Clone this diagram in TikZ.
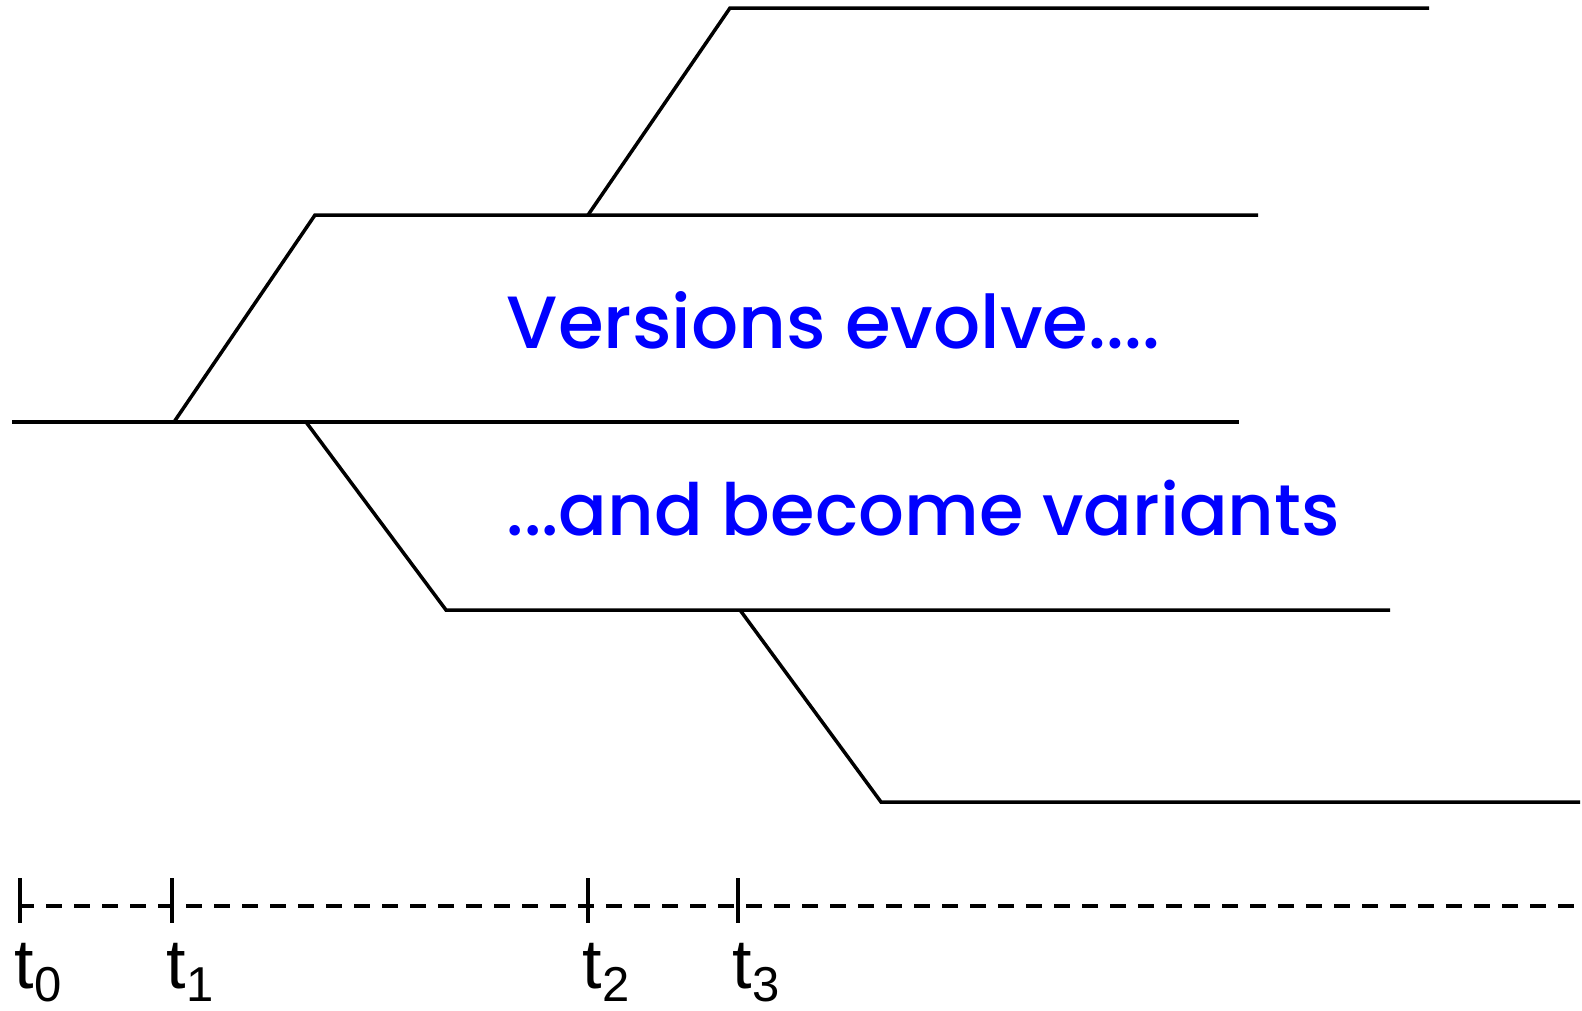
\documentclass[tikz,border=0pt]{standalone}
\usepackage{fontspec}
\setmainfont{Liberation Sans}
\newfontfamily\notefont{Poppins}[UprightFont={* Medium}]
\newcommand{\tlabel}[1]{\fontsize{70}{84}\selectfont t\raisebox{-13pt}{\fontsize{49}{49}\selectfont #1}}
\begin{document}
\begin{tikzpicture}[x=1pt,y=-1pt,line width=3.5pt]
\useasboundingbox (0,0) rectangle (1582,1010);

% main line and its branches
\coordinate (m0) at (12,422);
\coordinate (m1) at (174,422);
\coordinate (m2) at (306,422);
\coordinate (mend) at (1239,422);
\draw (m0) -- (mend);

\coordinate (u1) at (315,215);
\coordinate (u2) at (588,215);
\coordinate (uend) at (1258,215);
\draw (m1) -- (u1) -- (uend);

\coordinate (v1) at (730,8);
\coordinate (vend) at (1429,8);
\draw (u2) -- (v1) -- (vend);

\coordinate (d1) at (446,610);
\coordinate (d2) at (740,610);
\coordinate (dend) at (1390,610);
\draw (m2) -- (d1) -- (dend);

\coordinate (e1) at (881,802);
\coordinate (eend) at (1580,802);
\draw (d2) -- (e1) -- (eend);

\node[blue,anchor=base west,inner sep=0] (evolve) at (505,348)
  {\notefont\fontsize{74}{80}\selectfont Versions evolve....};
\node[blue,anchor=base west,inner sep=0] (variants) at (505,535)
  {\notefont\fontsize{72}{80}\selectfont ...and become variants};

% time axis
\coordinate (ax0) at (18,906);
\coordinate (ax1) at (1582,906);
\draw[dash pattern=on 16pt off 12pt] (ax0) -- (ax1);
\foreach \i/\x in {0/20,1/172,2/588,3/738} {
  \draw (\x,878) coordinate (tk\i) -- (\x,923);
  \node[anchor=base west,inner sep=0] (t\i) at (\x-7,988) {\tlabel{\i}};
}
\end{tikzpicture}
\end{document}
